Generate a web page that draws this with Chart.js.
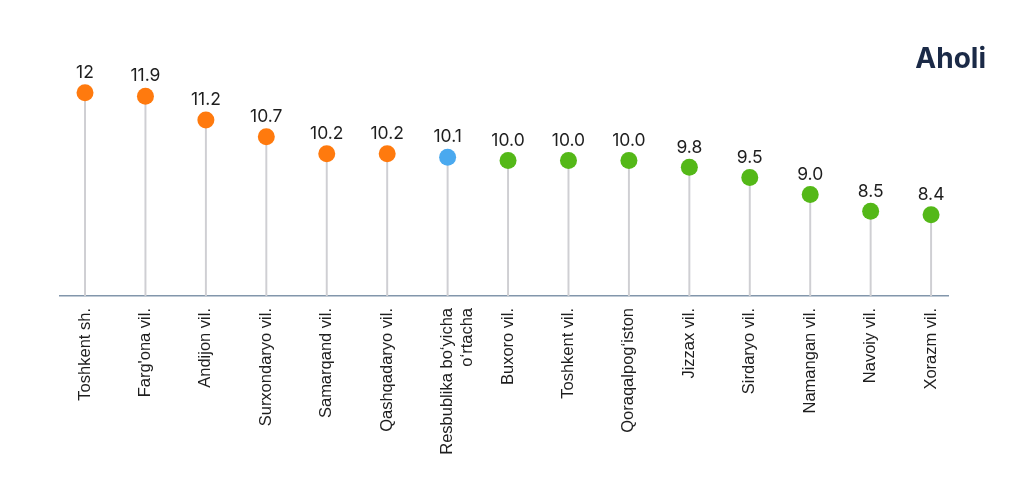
<!DOCTYPE html>
<html>
<head>
<meta charset="utf-8">
<script src="https://cdn.jsdelivr.net/npm/chart.js@4.4.1/dist/chart.umd.min.js"></script>
<style>
  html, body { margin: 0; padding: 0; background: #ffffff; }
  #wrap { position: relative; width: 1024px; height: 489px; }
</style>
</head>
<body>
<div id="wrap"><canvas id="c" width="1024" height="489"></canvas></div>
<script>
const categories = [
  "Toshkent sh.", "Farg'ona vil.", "Andijon vil.", "Surxondaryo vil.", "Samarqand vil.",
  "Qashqadaryo vil.", ["Resbublika bo‘yicha", "o‘rtacha"], "Buxoro vil.", "Toshkent vil.",
  "Qoraqalpog‘iston", "Jizzax vil.", "Sirdaryo vil.", "Namangan vil.", "Navoiy vil.", "Xorazm vil."
];
const values = [12, 11.9, 11.2, 10.7, 10.2, 10.2, 10.1, 10.0, 10.0, 10.0, 9.8, 9.5, 9.0, 8.5, 8.4];
const valueLabels = ["12", "11.9", "11.2", "10.7", "10.2", "10.2", "10.1", "10.0", "10.0", "10.0", "9.8", "9.5", "9.0", "8.5", "8.4"];
const groups = ["high", "high", "high", "high", "high", "high", "avg", "low", "low", "low", "low", "low", "low", "low", "low"];
const titleText = "Aholi";

const groupColors = { high: "#ff7a0e", avg: "#4aa9ef", low: "#54b818" };
const pts = values.map((v, i) => ({ x: i, y: v }));

const labelPlugin = {
  id: 'lollipopLabels',
  afterDatasetsDraw(chart) {
    const ctx = chart.ctx;
    const meta = chart.getDatasetMeta(0);
    ctx.save();
    ctx.fillStyle = '#1e1e1e';
    ctx.font = '17.5px Inter';
    ctx.textAlign = 'center';
    ctx.textBaseline = 'middle';
    meta.data.forEach((el, i) => {
      ctx.fillText(valueLabels[i], el.x, el.y - 20);
    });
    ctx.font = 'bold 28px Inter';
    ctx.fillStyle = '#1b2a47';
    ctx.textAlign = 'right';
    ctx.textBaseline = 'alphabetic';
    ctx.fillText(titleText, 986, 68);
    ctx.restore();
  }
};

new Chart(document.getElementById('c'), {
  data: {
    datasets: [
      {
        type: 'scatter',
        data: pts,
        pointRadius: 8.5,
        pointHoverRadius: 8.5,
        pointBorderWidth: 0,
        pointBackgroundColor: groups.map(g => groupColors[g]),
        pointBorderColor: groups.map(g => groupColors[g]),
        order: 0
      },
      {
        type: 'bar',
        data: pts,
        barThickness: 1.3,
        backgroundColor: '#cfcfd3',
        borderWidth: 0,
        order: 1
      }
    ]
  },
  options: {
    responsive: false,
    animation: false,
    events: [],
    layout: { padding: { top: 42, left: 60, right: 76, bottom: 0 } },
    plugins: { legend: { display: false }, tooltip: { enabled: false }, title: { display: false } },
    scales: {
      x: {
        type: 'linear',
        offset: false,
        min: -0.414,
        max: 14.28,
        afterBuildTicks(scale) {
          scale.ticks = categories.map((_, i) => ({ value: i }));
        },
        afterFit(scale) { scale.height = 193; },
        grid: { display: false, drawTicks: false, offset: false },
        border: { display: true, color: '#8296ab', width: 1.5 },
        ticks: {
          autoSkip: false,
          minRotation: 90,
          maxRotation: 90,
          padding: 12,
          color: '#1e1e1e',
          font: { family: 'Liberation Sans', size: 16.5 },
          callback: (v) => categories[v]
        }
      },
      y: {
        type: 'linear',
        display: false,
        min: 6,
        max: 13.5
      }
    }
  },
  plugins: [labelPlugin]
});
</script>
</body>
</html>
